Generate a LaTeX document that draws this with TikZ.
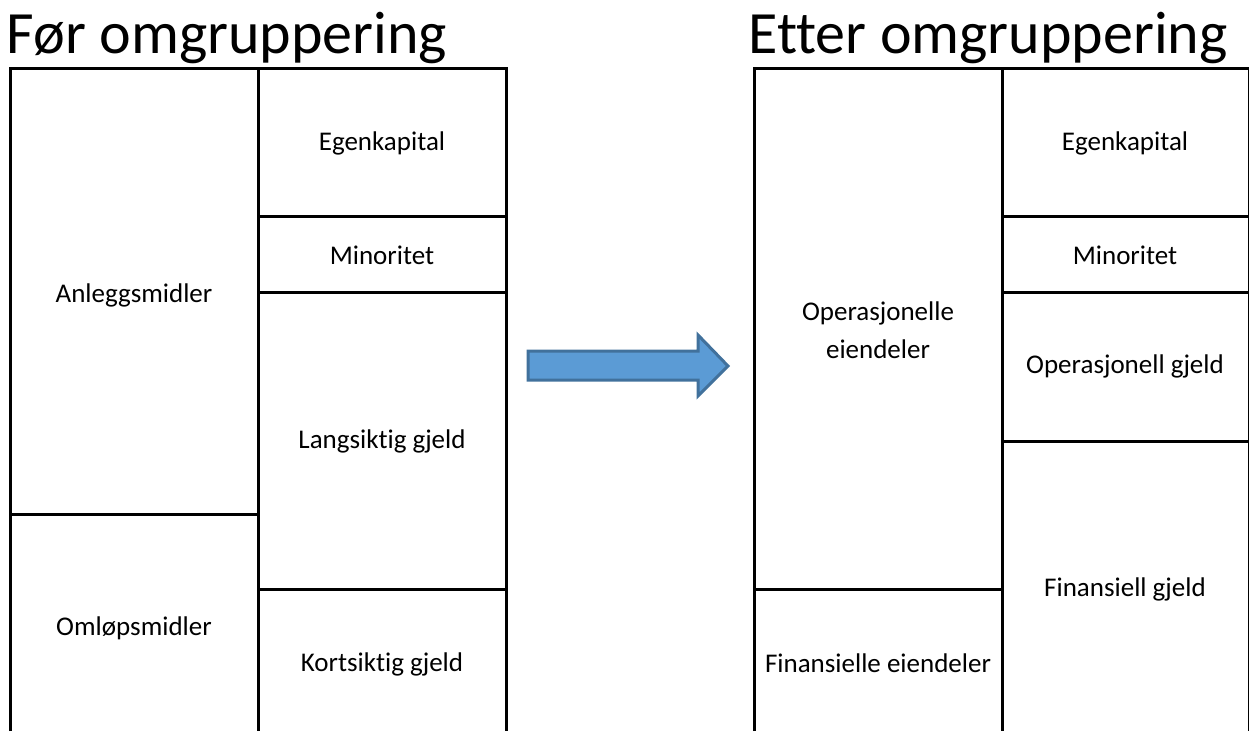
\documentclass[tikz,border=0pt]{standalone}
\usepackage{fontspec}
\setmainfont[Ligatures={NoCommon}]{Carlito}
\begin{document}
\begin{tikzpicture}[x=1pt,y=-1pt,
  frame/.style={line width=3pt,black},
  lbl/.style={font=\fontsize{27}{38}\selectfont,align=center,inner sep=0pt},
  ttl/.style={font=\fontsize{60}{66}\selectfont,inner sep=0pt},
  bigarrow/.style={fill={rgb,255:red,91;green,155;blue,213},draw={rgb,255:red,65;green,113;blue,156},line width=3pt,line join=miter}]
\useasboundingbox (0,0) rectangle (1249,731);
% titles
\node[ttl] (t1) at (227,38) {Før omgruppering};
\node[ttl] (t2) at (988,38) {Etter omgruppering};
% left frame
\draw[frame] (10,731) -- (10,68) -- (506,68) -- (506,731);
\draw[frame] (258,68) -- (258,731);
\draw[frame] (10,514) -- (258,514);
\draw[frame] (258,216) -- (506,216);
\draw[frame] (258,292) -- (506,292);
\draw[frame] (258,589) -- (506,589);
% right frame
\draw[frame] (754,731) -- (754,68) -- (1249,68) -- (1249,731);
\draw[frame] (1002,68) -- (1002,731);
\draw[frame] (754,589) -- (1002,589);
\draw[frame] (1002,216) -- (1249,216);
\draw[frame] (1002,292) -- (1249,292);
\draw[frame] (1002,441) -- (1249,441);
% arrow
\draw[bigarrow] (528,351) -- (698,351) -- (698,335) -- (728,366) -- (698,396) -- (698,380) -- (528,380) -- cycle;
% labels left
\node[lbl] (a1) at (134,295) {Anleggsmidler};
\node[lbl] (a2) at (134,628) {Omløpsmidler};
\node[lbl] (p1) at (382,143) {Egenkapital};
\node[lbl] (p2) at (382,255) {Minoritet};
\node[lbl] (p3) at (382,441) {Langsiktig gjeld};
\node[lbl] (p4) at (382,664) {Kortsiktig gjeld};
% labels right
\node[lbl] (b1) at (878,330) {Operasjonelle\\eiendeler};
\node[lbl] (b2) at (878,663) {Finansielle eiendeler};
\node[lbl] (q1) at (1125,143) {Egenkapital};
\node[lbl] (q2) at (1125,255) {Minoritet};
\node[lbl] (q3) at (1125,366) {Operasjonell gjeld};
\node[lbl] (q4) at (1125,589) {Finansiell gjeld};
\end{tikzpicture}
\end{document}
